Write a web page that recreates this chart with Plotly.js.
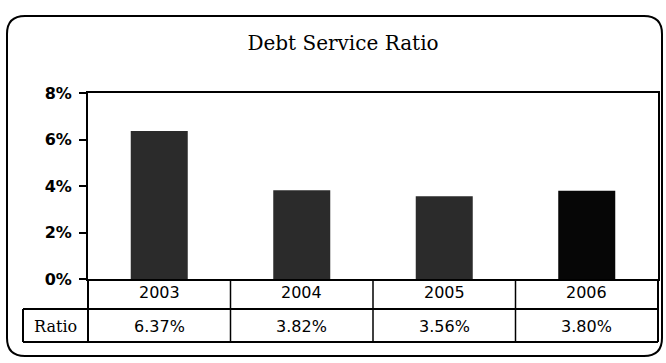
<!DOCTYPE html>
<html>
<head>
<meta charset="utf-8">
<script src="https://cdn.plot.ly/plotly-3.0.1.min.js"></script>
<style>html,body{margin:0;padding:0;background:#fff;}#chart{width:666px;height:363px;}</style>
</head>
<body>
<div id="chart"></div>
<script>
// ---- data ----
const years = ['2003', '2004', '2005', '2006'];
const ratio = [6.37, 3.82, 3.56, 3.80];
const rowLabel = 'Ratio';
const yTickVals = [0, 2, 4, 6, 8];
const yTickText = ['0%', '2%', '4%', '6%', '8%'];

// ---- layout helpers (pixel -> paper) ----
const W = 666, H = 363;
const M = {l: 88, r: 8, t: 93, b: 84};
const PW = W - M.l - M.r, PH = H - M.t - M.b;
const px = x => (x - M.l) / PW;
const py = y => (H - M.b - y) / PH;

const barColors = ['#2b2b2b', '#2b2b2b', '#2b2b2b', '#060606'];

const trace = {
  type: 'bar',
  x: years.map((_, i) => i),
  y: ratio,
  marker: {color: barColors, line: {width: 0}},
  hoverinfo: 'skip'
};

// outer rounded frame
const fx0 = px(7), fx1 = px(662), fy0 = py(16), fy1 = py(356);
const rx = 18 / PW, ry = 18 / PH;
const framePath = `M ${fx0 + rx} ${fy0} L ${fx1 - rx} ${fy0} Q ${fx1} ${fy0} ${fx1} ${fy0 - ry} ` +
  `L ${fx1} ${fy1 + ry} Q ${fx1} ${fy1} ${fx1 - rx} ${fy1} L ${fx0 + rx} ${fy1} ` +
  `Q ${fx0} ${fy1} ${fx0} ${fy1 + ry} L ${fx0} ${fy0 - ry} Q ${fx0} ${fy0} ${fx0 + rx} ${fy0} Z`;

const lineStyle = {color: '#000', width: 2};
const shapes = [
  {type: 'path', xref: 'paper', yref: 'paper', path: framePath, line: {color: '#000', width: 2}},
  // table horizontals
  {type: 'line', xref: 'paper', yref: 'paper', x0: px(23), x1: px(658), y0: py(309), y1: py(309), line: lineStyle},
  {type: 'line', xref: 'paper', yref: 'paper', x0: px(23), x1: px(658), y0: py(342), y1: py(342), line: lineStyle},
  // table verticals
  {type: 'line', xref: 'paper', yref: 'paper', x0: px(23), x1: px(23), y0: py(309), y1: py(342), line: lineStyle},
  {type: 'line', xref: 'paper', yref: 'paper', x0: 0, x1: 0, y0: 0, y1: py(342), line: lineStyle},
  {type: 'line', xref: 'paper', yref: 'paper', x0: 1, x1: 1, y0: 0, y1: py(342), line: lineStyle}
];
for (let i = 0; i < years.length - 1; i++) {
  shapes.push({type: 'line', xref: 'x', yref: 'paper', x0: i + 0.5, x1: i + 0.5, y0: 0, y1: py(342), line: {color: '#000', width: 1.5}});
}

const cellFont = {family: 'DejaVu Sans', size: 16, color: '#000'};
const annotations = [];
years.forEach((yr, i) => {
  annotations.push({xref: 'x', yref: 'paper', x: i, y: py(292), text: yr, showarrow: false, font: cellFont, xanchor: 'center', yanchor: 'middle'});
  annotations.push({xref: 'x', yref: 'paper', x: i, y: py(326), text: ratio[i].toFixed(2) + '%', showarrow: false, font: cellFont, xanchor: 'center', yanchor: 'middle'});
});
annotations.push({xref: 'paper', yref: 'paper', x: px(55), y: py(326), text: rowLabel, showarrow: false,
  font: {family: 'DejaVu Serif', size: 16, color: '#000'}, xanchor: 'center', yanchor: 'middle'});

const layout = {
  width: W, height: H,
  margin: M,
  paper_bgcolor: '#fff', plot_bgcolor: '#fff',
  showlegend: false,
  bargap: 0.6,
  title: {text: 'Debt Service Ratio', x: 343 / W, xanchor: 'center', xref: 'container',
          y: 1 - 43 / H, yanchor: 'middle', yref: 'container',
          font: {family: 'DejaVu Serif', size: 20, color: '#000'}},
  xaxis: {range: [-0.5, 3.5], showticklabels: false, ticks: '', showgrid: false, zeroline: false,
          showline: true, mirror: true, linecolor: '#000', linewidth: 2, fixedrange: true},
  yaxis: {range: [0, 8], tickvals: yTickVals, ticktext: yTickText, ticks: 'outside', ticklen: 7,
          tickwidth: 2, tickcolor: '#000', showgrid: false, zeroline: false,
          showline: true, mirror: true, linecolor: '#000', linewidth: 2, ticklabelstandoff: 4,
          tickfont: {family: 'DejaVu Sans', size: 16, color: '#000', weight: 'bold'}, fixedrange: true},
  shapes: shapes,
  annotations: annotations
};

Plotly.newPlot('chart', [trace], layout, {displayModeBar: false, staticPlot: true});
</script>
</body>
</html>
